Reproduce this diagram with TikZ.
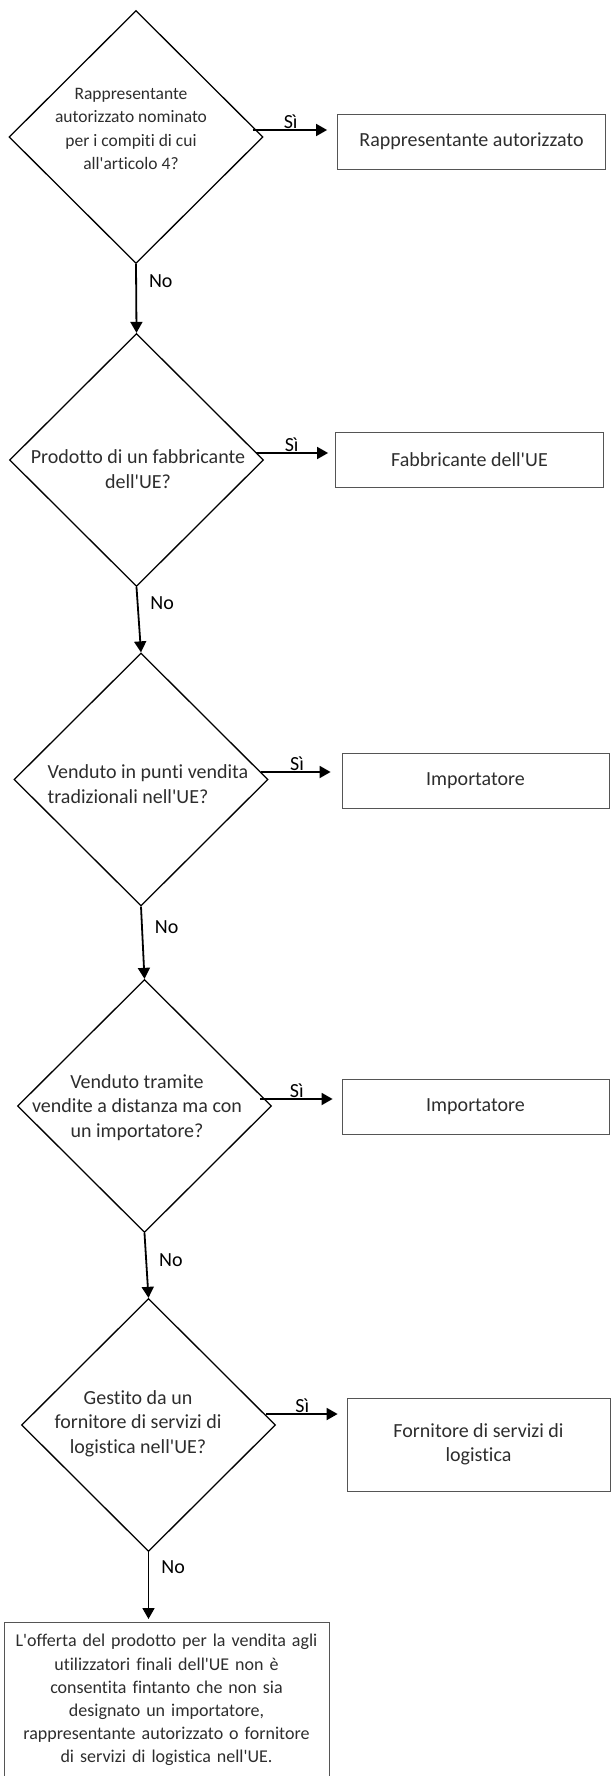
\documentclass[tikz,border=0pt]{standalone}
\usepackage{fontspec}
\setmainfont{Carlito}[Ligatures={TeXOff, CommonOff}]
\usetikzlibrary{shapes.geometric, arrows.meta, positioning}
\definecolor{inkgray}{RGB}{45,45,45}
\definecolor{boxgray}{RGB}{85,85,85}

\begin{document}
\begin{tikzpicture}[x=1pt, y=-1pt,
        question/.style={diamond, draw, line width=1.3pt, aspect=1, inner sep=0pt, minimum width=254pt, minimum height=253pt},
        qtext/.style={align=center, text=inkgray, font=\fontsize{20}{24.5}\selectfont},
        answer/.style={rectangle, draw=boxgray, line width=0.8pt, minimum width=268pt, minimum height=55pt, align=center, text=inkgray, font=\fontsize{20}{24}\selectfont},
        flow/.style={line width=1.8pt, -{Triangle[length=11pt, width=12pt]}},
        yeslabel/.style={above, inner sep=0.5pt, pos=0.45, font=\fontsize{20}{24}\selectfont},
        nolabel/.style={right, inner sep=0pt, xshift=12pt, font=\fontsize{20}{24}\selectfont}]
                \useasboundingbox (0,0) rectangle (610,1776);

                \node[question] (q1) at (136,137) {};
                \node[question] (q2) at (136.5,460) {};
                \node[question] (q3) at (141,779.5) {};
                \node[question] (q4) at (144.5,1106) {};
                \node[question] (q5) at (148.5,1425) {};

                \node[qtext, font=\fontsize{17.5}{23.3}\selectfont] (q1t) at (131,129) {Rappresentante\\autorizzato nominato\\per i compiti di cui\\all'articolo 4?};
                \node[qtext] (q2t) at (138,469) {Prodotto di un fabbricante\\dell'UE?};
                \node[qtext, align=left] (q3t) at (148,784) {Venduto in punti vendita\\tradizionali nell'UE?};
                \node[qtext] (q4t) at (137,1107.5) {Venduto tramite\\vendite a distanza ma con\\un importatore?};
                \node[qtext] (q5t) at (138,1423.5) {Gestito da un\\fornitore di servizi di\\logistica nell'UE?};

                \node[answer] (a1) at (471.5,141.5) {Rappresentante autorizzato};
                \node[answer] (a2) at (469.5,459.5) {Fabbricante dell'UE};
                \node[answer, minimum width=267pt] (a3) at (475.5,780.5) {Importatore};
                \node[answer, minimum width=267pt] (a4) at (475.5,1106.5) {Importatore};
                \node[answer, minimum width=263pt, minimum height=93pt] (a5) at (478.5,1444.5) {Fornitore di servizi di\\logistica};
                \node[answer, anchor=north, text width=312pt, inner xsep=6.5pt, inner ysep=12pt, font=\fontsize{18}{23.2}\selectfont] (fin) at (166.5,1622) {L'offerta del prodotto per la vendita agli\\utilizzatori finali dell'UE non è\\consentita fintanto che non sia\\designato un importatore,\\rappresentante autorizzato o fornitore\\di servizi di logistica nell'UE.};

                \coordinate (y1) at ([xshift=-11pt, yshift=7pt]q1.east);
                \coordinate (y2) at ([xshift=-8pt, yshift=7pt]q2.east);
                \coordinate (y3) at ([xshift=-8pt, yshift=7.5pt]q3.east);
                \coordinate (y4) at ([xshift=-12pt, yshift=7pt]q4.east);
                \coordinate (y5) at ([xshift=-10pt, yshift=11pt]q5.east);

                \draw[flow, shorten >=10pt] (y1) -- node[yeslabel] {Sì} (y1 -| a1.west);
                \draw[flow, shorten >=7pt] (y2) -- node[yeslabel] {Sì} (y2 -| a2.west);
                \draw[flow, shorten >=11pt] (y3) -- node[yeslabel] {Sì} (y3 -| a3.west);
                \draw[flow, shorten >=9pt] (y4) -- node[yeslabel] {Sì} (y4 -| a4.west);
                \draw[flow, shorten >=9pt] (y5) -- node[yeslabel] {Sì} (y5 -| a5.west);

                \draw[flow] (q1.south) -- node[nolabel, pos=0.25] {No} (q2.north);
                \draw[flow] (q2.south) -- node[nolabel, pos=0.24] {No} (q3.north);
                \draw[flow] (q3.south) -- node[nolabel, pos=0.28] {No} (q4.north);
                \draw[flow] (q4.south) -- node[nolabel, pos=0.42] {No} (q5.north);
                \draw[flow, shorten >=3pt] (q5.south) -- node[nolabel, pos=0.22] {No} (q5.south |- fin.north);
            \end{tikzpicture}
\end{document}
